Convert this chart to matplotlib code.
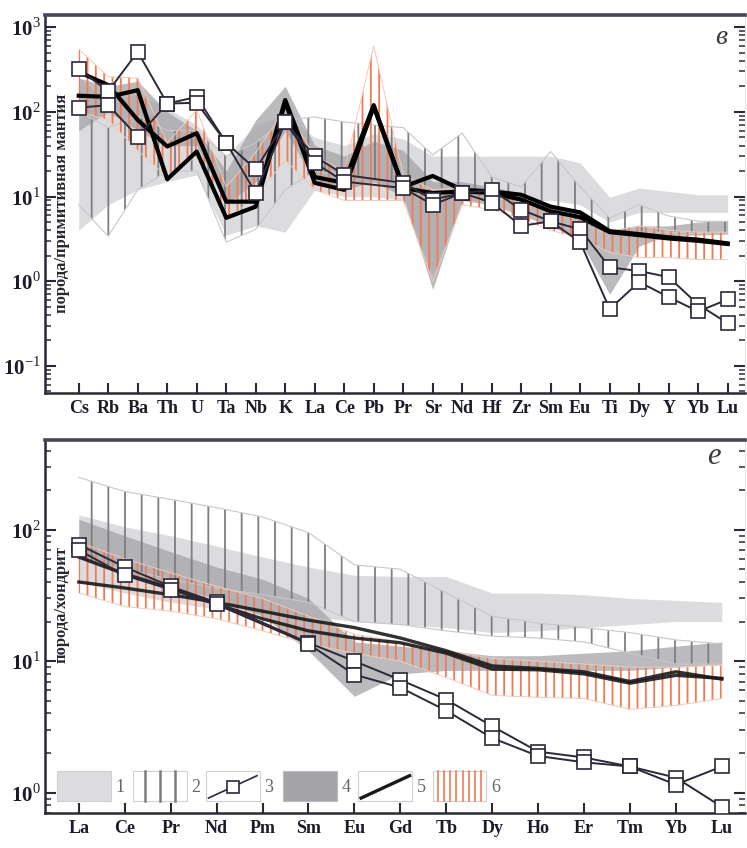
import numpy as np
import matplotlib
matplotlib.use("Agg")
import matplotlib.pyplot as plt
from matplotlib.patches import Rectangle
from matplotlib.lines import Line2D

plt.rcParams['font.family'] = ['Liberation Serif', 'DejaVu Serif']
plt.rcParams['mathtext.fontset'] = 'custom'
plt.rcParams['mathtext.rm'] = 'Liberation Serif'
plt.rcParams['mathtext.bf'] = 'Liberation Serif:bold'
plt.rcParams['hatch.linewidth'] = 1.3

nan = np.nan

# ---- panel в : primitive mantle normalised spider diagram
spider = ['Cs', 'Rb', 'Ba', 'Th', 'U', 'Ta', 'Nb', 'K', 'La', 'Ce', 'Pb', 'Pr', 'Sr',
          'Nd', 'Hf', 'Zr', 'Sm', 'Eu', 'Ti', 'Dy', 'Y', 'Yb', 'Lu']
f1_hi = [250, 130, 160, 110, 70, 30, 70, 90, 50, 40, 55, 48, 30, 30, 30, 30, 30, 25, 9.8, 12.6, 11.5, 10.5, 10.5]
f1_lo = [4, 8, 12, 15, 18, 3.5, 4.5, 3.8, 12, 10, 10, 9, 1.2, 9, 9, 9, 9, 8, 5, 6.5, 6.5, 6.5, 6.5]
f2_hi = [100, 65, 90, 60, 60, 30, 43, 80, 87, 76, 70, 65, 31, 56, 17, 13, 34, 13, 5.6, 8, 5.9, 5.1, 5.1]
f2_lo = [8, 3.4, 12, 20, 20, 2.9, 4.1, 12, 20, 18, 16, 15, 12, 13, 10, 8, 7, 5, 3.5, 3.8, 3.8, 3.7, 3.7]
f4_hi = [250, 200, 230, 100, 60, 20, 80, 200, 40, 30, 45, 35, 15, 15, 13, 11, 8, 6.5, 4, 4.5, 4.5, 5, 5.2]
f4_lo = [60, 100, 60, 40, 40, 8, 15, 60, 15, 12, 15, 10, 0.8, 9, 8, 6, 4.5, 3, 0.7, 2.6, 3.5, 3.5, 3.6]
f6_hi = [550, 260, 250, 43, 105, 13, 33, 110, 30, 20, 600, 18, 12, 12, 12, 10, 7, 5.5, 3.9, 4.5, 4, 3.8, 3.8]
f6_lo = [100, 80, 35, 17, 30, 5.3, 10, 27, 12, 9, 9, 9, 1.0, 8, 7, 5.5, 4, 3.2, 2.2, 1.9, 1.9, 1.8, 1.8]
sq_a = [320, 175, 510, 125, 150, 43, 21, 75, 30, 18, nan, 14.5, 9.2, 11, 12, 7, 5.1, 4.1, 1.46, 1.32, 1.12, 0.53, 0.32]
sq_b = [112, 120, 51, 125, 128, 43, 11, 75, 25, 15, nan, 12.6, 8, 11, 8.5, 4.5, 5.1, 2.9, 0.47, 0.98, 0.65, 0.44, 0.61]
th_a = [295, 207, 80, 39, 56, 8.7, 8.7, 138, 17, 14.5, 120, 13, 17.5, 12, 11.5, 10.5, 7.6, 6.5, 3.9, 3.6, 3.3, 3.1, 2.8]
th_b = [155, 150, 180, 16, 34, 5.6, 7.6, 130, 14.5, 12, 115, 12.6, 11, 11.5, 11, 9.2, 6.7, 5.7, 3.8, 3.5, 3.2, 3.0, 2.75]

# ---- panel е : chondrite normalised REE
ree = ['La', 'Ce', 'Pr', 'Nd', 'Pm', 'Sm', 'Eu', 'Gd', 'Tb', 'Dy', 'Ho', 'Er', 'Tm', 'Yb', 'Lu']
r1_hi = [130, 105, 90, 75, 62, 52, 45, 44, 44, 33, 33, 32, 30, 29, 28]
r1_lo = [40, 33, 28, 25, 23, 22, 20, 19, 18, 16.5, 17, 18, 19, 20, 20]
r2_hi = [250, 195, 170, 147, 125, 95, 54, 50, 33, 22, 19.5, 18, 16.5, 14.5, 13.5]
r2_lo = [60, 50, 42, 36, 32, 28, 20, 19, 17, 15.5, 15, 14, 11.5, 9.5, 9.5]
r4_hi = [120, 90, 68, 52, 42, 30, 14, 13, 12, 11, 11, 11.5, 12, 13, 14]
r4_lo = [60, 45, 36, 30, 22, 12, 5.4, 8, 8.5, 8.5, 8.5, 8.5, 8.5, 9, 9.5]
r6_hi = [80, 60, 47, 37, 30, 22, 16, 14, 12, 10.5, 10, 9.5, 9, 9, 9.3]
r6_lo = [33, 26, 24, 21, 17, 13.5, 11.5, 10, 7.5, 5.5, 5.3, 5.2, 4.3, 4.6, 5.2]
rs_a = [77, 52, 37, 28, nan, 13.8, 10, 7.2, 5.1, 3.2, 2.05, 1.85, 1.58, 1.3, 0.78]
rs_b = [70, 45, 35, 27, nan, 13.5, 7.9, 6.3, 4.2, 2.6, 1.9, 1.7, 1.58, 1.15, 1.58]
rl_a = [40, 36, 32, 28, 24, 20.5, 18, 15, 12, 9.2, 8.8, 8.3, 7.0, 8.3, 7.3]
rl_b = [62, 46, 36, 27, 21, 17, 15, 13.8, 11.5, 8.7, 8.6, 8.0, 6.8, 7.8, 7.4]

legend_labels = ['1', '2', '3', '4', '5', '6']

LIGHT = '#dcdcde'
DARK = '#a4a4a8'
HATCH_GREY = '#7d7d82'
ORANGE = '#f07a55'
INK = '#2c2838'


def draw_fields(ax, x, f1, f2, f4, f6):
    ax.fill_between(x, f1[1], f1[0], color=LIGHT, lw=0, zorder=1)
    ax.fill_between(x, f4[1], f4[0], color=DARK, alpha=0.75, lw=0, zorder=2)
    ax.fill_between(x, f2[1], f2[0], facecolor='none', edgecolor=HATCH_GREY,
                    hatch='|', lw=0, zorder=3)
    ax.plot(x, f2[0], color='#c8c8cc', lw=0.8, zorder=3)
    ax.plot(x, f2[1], color='#c8c8cc', lw=0.8, zorder=3)
    ax.fill_between(x, f6[1], f6[0], facecolor='none', edgecolor=ORANGE,
                    hatch='||', lw=0, zorder=4)
    ax.plot(x, f6[0], color='#f2c9b8', lw=0.7, zorder=4)
    ax.plot(x, f6[1], color='#f2c9b8', lw=0.7, zorder=4)


def draw_squares(ax, x, y, ms):
    y = np.array(y, dtype=float)
    ok = ~np.isnan(y)
    ax.plot(x[ok], y[ok], '-', color=INK, lw=1.4, marker='s', ms=ms,
            mfc='white', mec=INK, mew=1.2, zorder=7)


def style_axes(ax, labels, xlim, ylim, yticks, yticklabels):
    ax.set_yscale('log')
    ax.set_xlim(*xlim)
    ax.set_ylim(*ylim)
    ax.set_xticks(np.arange(len(labels)))
    ax.set_xticklabels(labels, fontsize=13, fontweight='bold', color='#1e1a28')
    ax.set_yticks(yticks)
    ax.set_yticklabels(yticklabels, fontsize=15, fontweight='bold', color='#1e1a28')
    ax.tick_params(axis='x', direction='in', length=7, width=1.5, color=INK, pad=5)
    ax.tick_params(axis='y', which='major', direction='in', length=8, width=1.5,
                   color=INK, right=True, pad=3)
    ax.tick_params(axis='y', which='minor', direction='in', length=4, width=1.1,
                   color=INK, right=True)
    for side in ['left', 'bottom']:
        ax.spines[side].set_linewidth(1.8)
        ax.spines[side].set_color(INK)
    ax.spines['top'].set_linewidth(2.6)
    ax.spines['top'].set_color('#4a4458')
    ax.spines['right'].set_color('#e6e6e8')
    ax.spines['right'].set_linewidth(0.8)


fig = plt.figure(figsize=(7.47, 8.48), dpi=100)

# ---------------- top panel
ax1 = fig.add_axes([0.060, 0.5366, 0.937, 0.4454])
x1 = np.arange(len(spider))
draw_fields(ax1, x1, (f1_hi, f1_lo), (f2_hi, f2_lo), (f4_hi, f4_lo), (f6_hi, f6_lo))
ax1.plot(x1, th_a, color='black', lw=3.0, zorder=6)
ax1.plot(x1, th_b, color='black', lw=3.0, zorder=6)
draw_squares(ax1, x1, sq_a, 10)
draw_squares(ax1, x1, sq_b, 10)
style_axes(ax1, spider, (-1.15, 22.58), (0.048, 1380),
           [0.1, 1, 10, 100, 1000],
           ['10$^{-1}$', '10$^{0}$', '10$^{1}$', '10$^{2}$', '10$^{3}$'])
ax1.text(0.024, 0.503, 'порода/примитивная мантия', transform=ax1.transAxes,
         rotation=90, ha='center', va='center', fontsize=12, fontweight='bold',
         color='#2a2630', zorder=9)
ax1.text(0.975, 0.94, 'в', transform=ax1.transAxes, ha='right', va='center',
         fontsize=20, style='italic', color='#3a3a3a')

# ---------------- bottom panel
ax2 = fig.add_axes([0.060, 0.0413, 0.937, 0.4397])
x2 = np.arange(len(ree))
draw_fields(ax2, x2, (r1_hi, r1_lo), (r2_hi, r2_lo), (r4_hi, r4_lo), (r6_hi, r6_lo))
ax2.plot(x2, rl_a, color='#1a1a1a', lw=2.4, alpha=0.9, zorder=6)
ax2.plot(x2, rl_b, color='#1a1a1a', lw=2.4, alpha=0.9, zorder=6)
draw_squares(ax2, x2, rs_a, 9.5)
draw_squares(ax2, x2, rs_b, 9.5)
style_axes(ax2, ree, (-0.74, 14.5), (0.7, 480),
           [1, 10, 100], ['10$^{0}$', '10$^{1}$', '10$^{2}$'])
ax2.text(0.024, 0.558, 'порода/хондрит', transform=ax2.transAxes,
         rotation=90, ha='center', va='center', fontsize=12, fontweight='bold',
         color='#2a2630', zorder=9)
ax2.text(0.965, 0.955, 'е', transform=ax2.transAxes, ha='right', va='center',
         fontsize=22, style='italic', color='#3a3a3a')

# ---------------- legend boxes (axes fraction)
bw, bh, by = 0.077, 0.080, 0.032
bx = [0.018, 0.126, 0.230, 0.340, 0.448, 0.554]
for i, lab in enumerate(legend_labels):
    x0 = bx[i]
    if i == 0:
        ax2.add_patch(Rectangle((x0, by), bw, bh, transform=ax2.transAxes,
                                facecolor=LIGHT, edgecolor='#d0d0d3', lw=0.8, zorder=8))
    elif i == 3:
        ax2.add_patch(Rectangle((x0, by), bw, bh, transform=ax2.transAxes,
                                facecolor=DARK, edgecolor='#bcbcc0', lw=0.8, zorder=8))
    else:
        ax2.add_patch(Rectangle((x0, by), bw, bh, transform=ax2.transAxes,
                                facecolor='white', edgecolor='#d0d0d3', lw=0.8, zorder=8))
    if i == 1:
        for f in [0.22, 0.5, 0.78]:
            ax2.add_line(Line2D([x0 + f * bw] * 2, [by, by + bh], transform=ax2.transAxes,
                                color=HATCH_GREY, lw=1.8, zorder=9))
    if i == 2:
        ax2.add_line(Line2D([x0 + 0.05 * bw, x0 + 0.95 * bw], [by + 0.1 * bh, by + 0.85 * bh],
                            transform=ax2.transAxes, color=INK, lw=1.2, zorder=9))
        ax2.add_line(Line2D([x0 + 0.5 * bw], [by + 0.48 * bh], transform=ax2.transAxes,
                            marker='s', ms=9, mfc='white', mec=INK, mew=1.2, zorder=10))
    if i == 4:
        ax2.add_line(Line2D([x0 + 0.05 * bw, x0 + 0.95 * bw], [by + 0.1 * bh, by + 0.85 * bh],
                            transform=ax2.transAxes, color='#1a1a1a', lw=2.4, zorder=9))
    if i == 5:
        for f in np.linspace(0.1, 0.9, 8):
            ax2.add_line(Line2D([x0 + f * bw] * 2, [by, by + bh], transform=ax2.transAxes,
                                color=ORANGE, lw=1.2, zorder=9))
    ax2.text(x0 + bw + 0.013, by + bh / 2 - 0.003, lab, transform=ax2.transAxes,
             ha='center', va='center', fontsize=13, color='#666666', zorder=9)

fig.savefig('out.png', dpi=100)
